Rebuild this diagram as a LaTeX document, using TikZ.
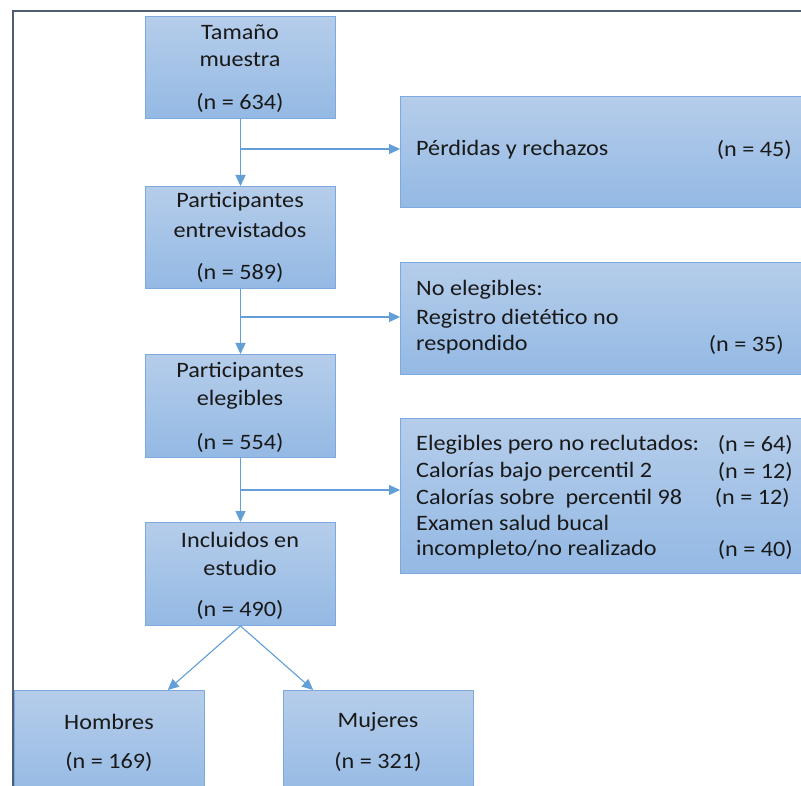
\documentclass[tikz,border=0pt]{standalone}
\usepackage{fontspec}
\setmainfont{Carlito}[FakeStretch=1.1]
\usetikzlibrary{arrows.meta,calc}
\definecolor{boxtop}{RGB}{181,205,234}
\definecolor{boxbot}{RGB}{148,185,228}
\definecolor{boxline}{RGB}{125,170,222}
\definecolor{arrowc}{RGB}{98,158,215}
\definecolor{framec}{RGB}{78,92,118}
\definecolor{txt}{RGB}{25,25,25}
\tikzset{
  flowbox/.style={draw=boxline, line width=1pt, top color=boxtop, bottom color=boxbot, inner sep=0pt, anchor=north west},
  lbl/.style={text=txt, inner sep=0pt, font=\fontsize{22}{26}\selectfont},
  lbll/.style={lbl, anchor=west},
  lblr/.style={lbl, anchor=east},
  conn/.style={draw=arrowc, line width=1.1pt, -{Triangle[length=11pt,width=10pt]}},
  connplain/.style={draw=arrowc, line width=1.1pt}
}
\begin{document}
\begin{tikzpicture}[x=1pt,y=-1pt]
\clip (0,0) rectangle (801,786);
\fill[white] (0,0) rectangle (801,786);
% frame
\draw[framec, line width=1.8pt] (13,800) -- (13,11) -- (810,11);
% left boxes
\node[flowbox, minimum width=190pt, minimum height=102pt] (b1) at (145,16) {};
\node[flowbox, minimum width=190pt, minimum height=102pt] (b2) at (145,186) {};
\node[flowbox, minimum width=190pt, minimum height=103pt] (b3) at (145,354) {};
\node[flowbox, minimum width=190pt, minimum height=103pt] (b4) at (145,522) {};
\node[flowbox, minimum width=190pt, minimum height=110pt] (h) at (14,690) {};
\node[flowbox, minimum width=190pt, minimum height=110pt] (m) at (283,690) {};
% right boxes
\node[flowbox, minimum width=415pt, minimum height=111pt] (r1) at (400,96) {};
\node[flowbox, minimum width=415pt, minimum height=112pt] (r2) at (400,262) {};
\node[flowbox, minimum width=415pt, minimum height=155pt] (r3) at (400,418) {};
% texts left boxes
\node[lbl] (t1a) at (240,32) {Tamaño};
\node[lbl] (t1b) at (240,60) {muestra};
\node[lbl] (t1c) at (240,103) {(n = 634)};
\node[lbl] (t2a) at (240,201.7) {Participantes};
\node[lbl] (t2b) at (240,230) {entrevistados};
\node[lbl] (t2c) at (240,273.3) {(n = 589)};
\node[lbl] (t3a) at (240,371.7) {Participantes};
\node[lbl] (t3b) at (240,400) {elegibles};
\node[lbl] (t3c) at (240,443.3) {(n = 554)};
\node[lbl] (t4a) at (240,540) {Incluidos en};
\node[lbl] (t4b) at (240,568.3) {estudio};
\node[lbl] (t4c) at (240,610) {(n = 490)};
\node[lbl] (tha) at (109,721.7) {Hombres};
\node[lbl] (thb) at (109,761.7) {(n = 169)};
\node[lbl] (tma) at (378,721.7) {Mujeres};
\node[lbl] (tmb) at (378,761.7) {(n = 321)};
% texts right boxes
\node[lbll] (r1a) at (416,150) {Pérdidas y rechazos};
\node[lblr] (r1b) at (792,150) {(n = 45)};
\node[lbll] (r2a) at (416,290) {No elegibles:};
\node[lbll] (r2b) at (416,318.3) {Registro dietético no};
\node[lbll] (r2c) at (416,345) {respondido};
\node[lblr] (r2d) at (784,345) {(n = 35)};
\node[lbll] (r3a) at (416,445) {Elegibles pero no reclutados:};
\node[lblr] (r3b) at (793,445) {(n = 64)};
\node[lbll] (r3c) at (416,471.7) {Calorías bajo percentil 2};
\node[lblr] (r3d) at (793,471.7) {(n = 12)};
\node[lbll] (r3e) at (416,498.3) {Calorías sobre\ \ percentil 98};
\node[lblr] (r3f) at (790,498.3) {(n = 12)};
\node[lbll] (r3g) at (416,523.3) {Examen salud bucal};
\node[lbll] (r3h) at (416,550) {incompleto/no realizado};
\node[lblr] (r3i) at (793,550) {(n = 40)};
% connectors
\draw[conn] (b1.south) -- (b2.north);
\draw[conn] (b2.south) -- (b3.north);
\draw[conn] (b3.south) -- (b4.north);
\coordinate (j1) at (240,149);
\coordinate (j2) at (240,317);
\coordinate (j3) at (240,490);
\draw[conn] (j1) -- (j1 -| r1.west);
\draw[conn] (j2) -- (j2 -| r2.west);
\draw[conn] (j3) -- (j3 -| r3.west);
\draw[conn] (b4.south) -- ($(h.north west)!0.805!(h.north east)$);
\draw[conn] (b4.south) -- ($(m.north west)!0.158!(m.north east)$);
\end{tikzpicture}
\end{document}
